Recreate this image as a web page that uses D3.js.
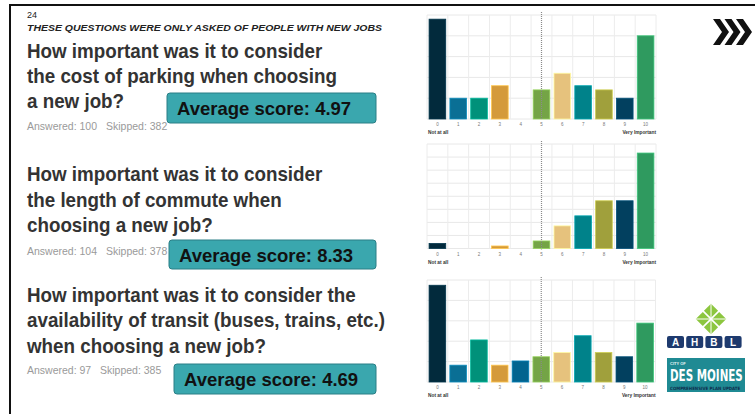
<!DOCTYPE html>
<html>
<head>
<meta charset="utf-8">
<script src="https://cdn.jsdelivr.net/npm/d3@7"></script>
<style>
  html, body { margin: 0; padding: 0; background: #fff; }
  svg { display: block; font-family: "Liberation Sans", Arial, sans-serif; }
</style>
</head>
<body>
<div id="chart"></div>
<script>
// score categories 0..10
const scoreLabels = ["0", "1", "2", "3", "4", "5", "6", "7", "8", "9", "10"];

// response counts per score
const parkingCounts = [24, 5, 5, 8, 0, 7, 11, 8, 7, 5, 20];
const commuteCounts = [2, 0, 0, 1, 0, 3, 9, 13, 19, 19, 38];
const transitCounts = [23, 4, 10, 4, 5, 6, 7, 11, 7, 6, 14];

const answeredCounts = [100, 104, 97];
const skippedCounts = [382, 378, 385];
const averageScores = ["4.97", "8.33", "4.69"];
const yMaxPercent = [25, 40, 25];

const questionLines = [
  ["How important was it to consider", "the cost of parking when choosing", "a new job?"],
  ["How important was it to consider", "the length of commute when", "choosing a new job?"],
  ["How important was it to consider the", "availability of transit (buses, trains, etc.)", "when choosing a new job?"]
];

const barColors = [
  "#022a3c", "#0a6f95", "#00917a", "#d49a3b", "#02648f", "#74a446",
  "#e6c27d", "#00828a", "#a0a03c", "#02405f", "#2f9a5f"
];

const width = 755;
const height = 414;

const svg = d3.select("#chart")
  .append("svg")
  .attr("width", width)
  .attr("height", height)
  .attr("viewBox", [0, 0, width, height]);

svg.append("rect").attr("width", width).attr("height", height).attr("fill", "#fff");

// slide frame (top + left rule)
svg.append("line").attr("x1", 10).attr("x2", width).attr("y1", 5).attr("y2", 5)
  .attr("stroke", "#111").attr("stroke-width", 2);
svg.append("line").attr("x1", 10).attr("x2", 10).attr("y1", 4).attr("y2", height)
  .attr("stroke", "#111").attr("stroke-width", 2);

// header
svg.append("text").attr("x", 27).attr("y", 18).text("24")
  .style("font-size", "9px").attr("fill", "#222");
svg.append("text").attr("x", 27).attr("y", 31)
  .text("THESE QUESTIONS WERE ONLY ASKED OF PEOPLE WITH NEW JOBS")
  .attr("textLength", 355).attr("lengthAdjust", "spacingAndGlyphs")
  .style("font-size", "9.5px").style("font-weight", "bold").style("font-style", "italic")
  .attr("fill", "#222");

// left side layout for each question
const textLayout = [
  { lines: [58, 83, 108], answered: 130, skippedX: 106, box: { x: 167, y: 93, w: 209, h: 30 } },
  { lines: [181, 206.5, 232], answered: 255, skippedX: 106, box: { x: 169, y: 240, w: 207, h: 29 } },
  { lines: [301.5, 327, 352.5], answered: 374, skippedX: 100, box: { x: 174, y: 364, w: 202, h: 30 } }
];

textLayout.forEach((t, qi) => {
  questionLines[qi].forEach((line, li) => {
    svg.append("text")
      .attr("transform", `translate(27, ${t.lines[li]}) scale(0.94, 1)`)
      .text(line)
      .style("font-size", "20px")
      .style("font-weight", "bold")
      .attr("fill", "#333");
  });

  svg.append("text").attr("x", 27).attr("y", t.answered)
    .text(`Answered: ${answeredCounts[qi]}`)
    .style("font-size", "10.5px").attr("fill", "#9a9a9a");
  svg.append("text").attr("x", t.skippedX).attr("y", t.answered)
    .text(`Skipped: ${skippedCounts[qi]}`)
    .style("font-size", "10.5px").attr("fill", "#9a9a9a");

  // average score badge
  svg.append("rect")
    .attr("x", t.box.x).attr("y", t.box.y)
    .attr("width", t.box.w).attr("height", t.box.h)
    .attr("rx", 3)
    .attr("fill", "#3aa7ae")
    .attr("stroke", "#2a7f86").attr("stroke-width", 1);
  svg.append("text")
    .attr("x", t.box.x + 10).attr("y", t.box.y + 22)
    .text(`Average score: ${averageScores[qi]}`)
    .style("font-size", "18.5px").style("font-weight", "bold")
    .attr("fill", "#111");
});

// bar charts
const chartLayout = [
  { left: 427, right: 656, top: 15, bottom: 119 },
  { left: 427, right: 656, top: 144, bottom: 248.5 },
  { left: 427, right: 655.5, top: 280, bottom: 382 }
];
const allCounts = [parkingCounts, commuteCounts, transitCounts];

const drawChart = (counts, answered, yMax, c) => {
  const data = counts.map((n, i) => ({ score: scoreLabels[i], pct: n / answered * 100 }));

  const xScale = d3.scaleBand()
    .domain(scoreLabels)
    .range([c.left, c.right])
    .paddingInner(0.2)
    .paddingOuter(0.1);

  const yScale = d3.scaleLinear()
    .domain([0, yMax])
    .range([c.bottom, c.top]);

  const g = svg.append("g");
  const step = xScale.step();

  // grid
  g.selectAll(".hgrid")
    .data(d3.range(0, yMax + 1, 5))
    .enter()
    .append("line")
    .attr("x1", c.left).attr("x2", c.right)
    .attr("y1", (d) => yScale(d)).attr("y2", (d) => yScale(d))
    .attr("stroke", "#e8e8e8").attr("stroke-width", 1);

  g.selectAll(".vgrid")
    .data(d3.range(scoreLabels.length + 1))
    .enter()
    .append("line")
    .attr("x1", (d) => c.left + d * step).attr("x2", (d) => c.left + d * step)
    .attr("y1", c.top).attr("y2", c.bottom)
    .attr("stroke", "#ececec").attr("stroke-width", 1);

  // bars
  g.selectAll(".bar")
    .data(data.filter((d) => d.pct > 0))
    .enter()
    .append("rect")
    .attr("x", (d) => xScale(d.score))
    .attr("y", (d) => yScale(d.pct))
    .attr("width", xScale.bandwidth())
    .attr("height", (d) => yScale(0) - yScale(d.pct))
    .attr("fill", (d) => barColors[+d.score])
    .attr("stroke", (d) => d3.color(barColors[+d.score]).brighter(0.7))
    .attr("stroke-width", 0.8);

  // midpoint dotted marker at score 5
  const mx = xScale("5") + xScale.bandwidth() / 2;
  g.append("line")
    .attr("x1", mx).attr("x2", mx)
    .attr("y1", c.top - 3).attr("y2", c.bottom + 1)
    .attr("stroke", "#8a8a8a").attr("stroke-width", 1.2)
    .attr("stroke-dasharray", "1,1");

  // tick labels
  g.selectAll(".tick-label")
    .data(scoreLabels)
    .enter()
    .append("text")
    .attr("x", (d) => xScale(d) + xScale.bandwidth() / 2)
    .attr("y", c.bottom + 7)
    .text((d) => d)
    .style("font-size", "4.5px")
    .style("text-anchor", "middle")
    .attr("fill", "#777");

  g.append("text")
    .attr("x", c.left + 1).attr("y", c.bottom + 15)
    .text("Not at all")
    .style("font-size", "4.8px").style("font-weight", "bold")
    .attr("fill", "#333");
  g.append("text")
    .attr("x", c.right).attr("y", c.bottom + 15)
    .text("Very Important")
    .style("font-size", "4.8px").style("font-weight", "bold")
    .style("text-anchor", "end")
    .attr("fill", "#333");
};

chartLayout.forEach((c, i) => drawChart(allCounts[i], answeredCounts[i], yMaxPercent[i], c));

// chevrons, top right
const chevron = (x0) => `M${x0},19 L${x0 + 7},19 L${x0 + 16},32 L${x0 + 7},45 L${x0},45 L${x0 + 9},32 Z`;
[713, 724.5, 736].forEach((x0) => {
  svg.append("path").attr("d", chevron(x0)).attr("fill", "#111");
});

// AHBL logo (approximate)
const leaf = svg.append("g").attr("transform", "translate(711, 319)");
[0, 90, 180, 270].forEach((a) => {
  leaf.append("rect")
    .attr("x", 0.8).attr("y", 0.8).attr("width", 10).attr("height", 10)
    .attr("transform", `rotate(${a + 45}) `)
    .attr("fill", "#8cc63f");
});
leaf.append("line").attr("x1", -15).attr("x2", 15).attr("y1", 0).attr("y2", 0)
  .attr("stroke", "#fff").attr("stroke-width", 1);
leaf.append("line").attr("x1", 0).attr("x2", 0).attr("y1", -15).attr("y2", 15)
  .attr("stroke", "#fff").attr("stroke-width", 1);

["A", "H", "B", "L"].forEach((ch, i) => {
  const bx = 667 + i * 19.2;
  svg.append("rect").attr("x", bx).attr("y", 336).attr("width", 17).attr("height", 12)
    .attr("rx", 2).attr("fill", "#1e3a6e");
  svg.append("text").attr("x", bx + 8.5).attr("y", 345.5).text(ch)
    .style("font-size", "10px").style("font-weight", "bold")
    .style("text-anchor", "middle").attr("fill", "#fff");
});

// Des Moines logo (approximate)
svg.append("rect").attr("x", 667).attr("y", 358).attr("width", 78).attr("height", 34)
  .attr("fill", "#1f8a93");
svg.append("text").attr("x", 670).attr("y", 364.5).text("CITY OF")
  .style("font-size", "4px").style("font-weight", "bold").attr("fill", "#e8f4f4");
svg.append("text")
  .attr("transform", "translate(670, 381) scale(1, 1.4)")
  .text("DES MOINES")
  .style("font-family", "'DejaVu Sans Condensed', sans-serif")
  .style("font-size", "11.5px").style("font-weight", "bold").attr("fill", "#fff");
svg.append("text").attr("x", 670).attr("y", 389.5)
  .text("COMPREHENSIVE PLAN UPDATE")
  .style("font-family", "'DejaVu Sans Condensed', sans-serif")
  .style("font-size", "4.4px").style("font-weight", "bold").attr("fill", "#0f2f4f");
</script>
</body>
</html>
